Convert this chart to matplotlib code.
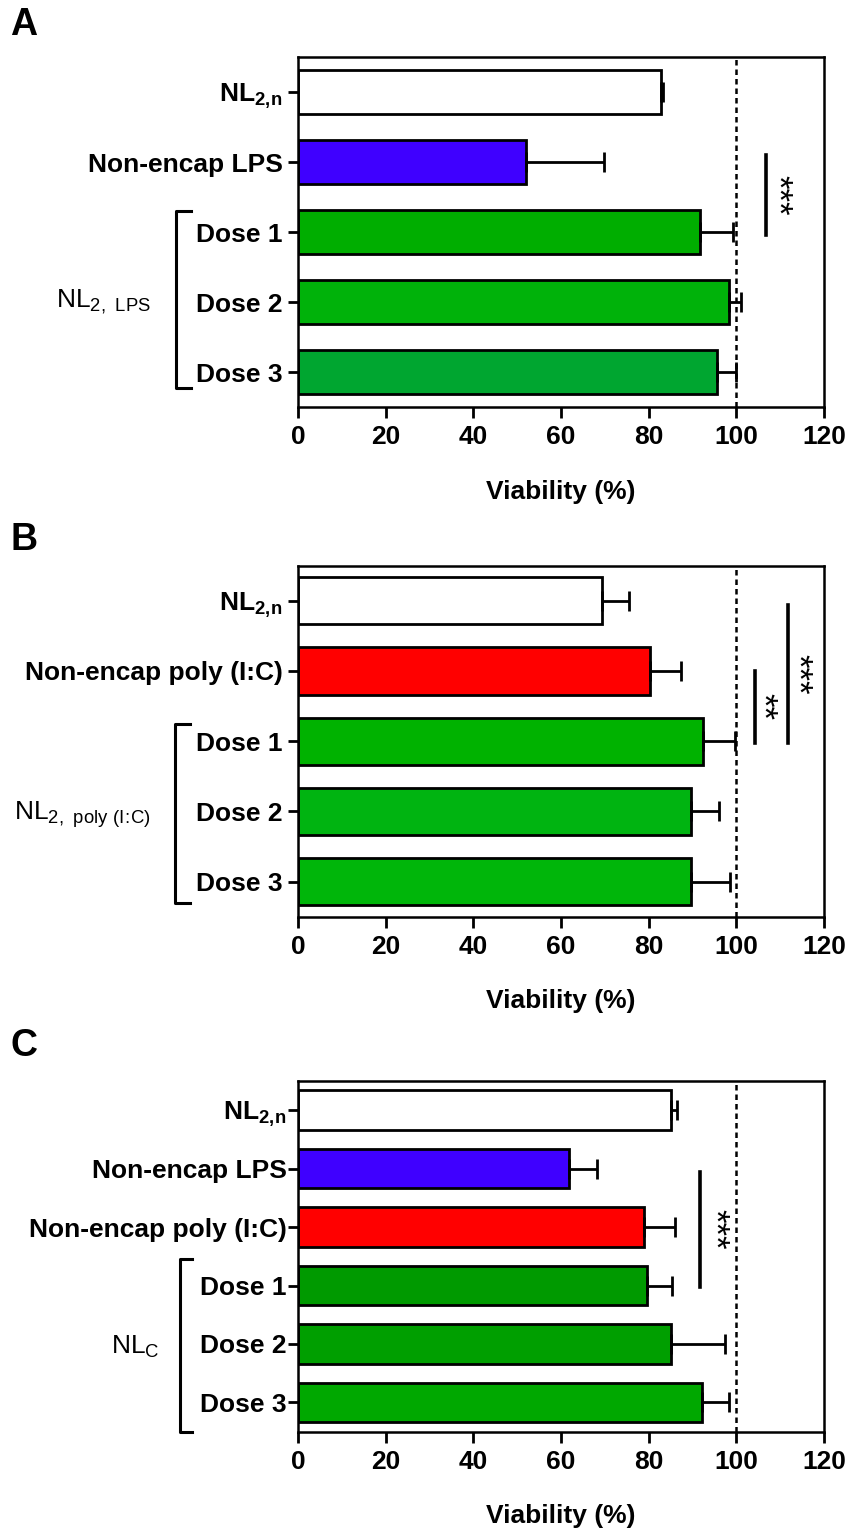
import numpy as np
import matplotlib
matplotlib.use('Agg')
import matplotlib.pyplot as plt
from matplotlib.transforms import blended_transform_factory

plt.rcParams['font.family'] = ['Liberation Sans', 'DejaVu Sans']
plt.rcParams['mathtext.fontset'] = 'custom'
plt.rcParams['mathtext.rm'] = 'Liberation Sans'
plt.rcParams['mathtext.bf'] = 'Liberation Sans:bold'
plt.rcParams['axes.linewidth'] = 1.8

# ---- panel A
labels_a = [r'$\mathbf{NL_{2,\!n}}$', 'Non-encap LPS', 'Dose 1', 'Dose 2', 'Dose 3']
vals_a = [82.8, 52.0, 91.7, 98.2, 95.5]
errs_a = [0.5, 17.8, 7.5, 2.8, 4.5]
colors_a = ['#ffffff', '#3f00ff', '#00ae00', '#00b20a', '#00a630']
height_a = 0.62

# ---- panel B
labels_b = [r'$\mathbf{NL_{2,\!n}}$', 'Non-encap poly (I:C)', 'Dose 1', 'Dose 2', 'Dose 3']
vals_b = [69.4, 80.3, 92.3, 89.6, 89.6]
errs_b = [6.0, 7.0, 7.3, 6.4, 9.0]
colors_b = ['#ffffff', '#ff0000', '#00b200', '#00b411', '#00b60a']
height_b = 0.67

# ---- panel C
labels_c = [r'$\mathbf{NL_{2,\!n}}$', 'Non-encap LPS', 'Non-encap poly (I:C)', 'Dose 1', 'Dose 2', 'Dose 3']
vals_c = [85.0, 61.9, 79.0, 79.7, 85.0, 92.2]
errs_c = [1.5, 6.2, 7.1, 5.6, 12.3, 6.1]
colors_c = ['#ffffff', '#3f00ff', '#ff0000', '#009a00', '#009f00', '#00a800']
height_c = 0.68

xticks = [0, 20, 40, 60, 80, 100, 120]

fig = plt.figure(figsize=(8.54, 15.33), dpi=100)

ax_a = fig.add_axes([0.349, 0.7345, 0.616, 0.2283])
ax_b = fig.add_axes([0.349, 0.402, 0.616, 0.229])
ax_c = fig.add_axes([0.349, 0.0661, 0.616, 0.2288])


def draw_panel(ax, labels, vals, errs, colors, h, pad):
	pos = np.arange(len(vals))
	ax.barh(pos, vals, height=h, color=colors, edgecolor='k', linewidth=2, zorder=2)
	ax.errorbar(vals, pos, xerr=[np.zeros(len(errs)), errs], fmt='none', ecolor='k',
				elinewidth=2, capsize=7, capthick=2, zorder=3)
	ax.axvline(100, color='k', lw=1.8, ls=(0, (2.2, 1.6)), zorder=1)
	ax.set_xlim(0, 120)
	ax.set_ylim(len(vals) - 0.5, -0.5)
	ax.set_yticks(pos)
	ax.set_yticklabels(labels, fontsize=19, fontweight='bold')
	ax.set_xticks(xticks)
	ax.set_xticklabels([str(t) for t in xticks], fontsize=19, fontweight='bold')
	ax.tick_params(axis='y', length=7, width=2, pad=pad)
	ax.tick_params(axis='x', length=8, width=2, pad=5)
	ax.set_xlabel('Viability (%)', fontsize=19, fontweight='bold', labelpad=22)


def bracket(ax, x0, x1, y0, y1, text, tx, ty):
	tr = blended_transform_factory(ax.transAxes, ax.transData)
	ax.plot([x1, x0, x0, x1], [y0, y0, y1, y1], color='k', lw=2.2, transform=tr, clip_on=False)
	ax.text(tx, ty, text, transform=tr, ha='center', va='center', fontsize=19)


def sig(ax, x, y0, y1, stars, tx):
	ax.plot([x, x], [y0, y1], color='k', lw=2.6, zorder=4)
	ax.text(tx, (y0 + y1) / 2, stars, rotation=270, ha='center', va='center', fontsize=25)


draw_panel(ax_a, labels_a, vals_a, errs_a, colors_a, height_a, 4)
bracket(ax_a, -0.232, -0.203, 1.7, 4.23, r'$\mathrm{NL_{2,\ LPS}}$', -0.369, 3.0)
sig(ax_a, 106.7, 0.9, 2.04, '***', 109.4)

draw_panel(ax_b, labels_b, vals_b, errs_b, colors_b, height_b, 4)
bracket(ax_b, -0.234, -0.205, 1.75, 4.3, r'$\mathrm{NL_{2,\ poly\ (I\!:\!C)}}$', -0.41, 3.05)
sig(ax_b, 104.2, 1.0, 2.02, '**', 106.0)
sig(ax_b, 111.7, 0.06, 2.02, '***', 113.8)

draw_panel(ax_c, labels_c, vals_c, errs_c, colors_c, height_c, 1)
bracket(ax_c, -0.224, -0.2015, 2.55, 5.5, r'$\mathrm{NL_{C}}$', -0.31, 4.05)
sig(ax_c, 91.8, 1.05, 3.03, '***', 95.0)

# panel letters
for lab, y in [('A', 1 - 25 / 1533), ('B', 1 - 540 / 1533), ('C', 1 - 1046 / 1533)]:
	fig.text(0.028, y, lab, fontsize=27, fontweight='bold', ha='center', va='center')

fig.savefig('out.png', dpi=100)
